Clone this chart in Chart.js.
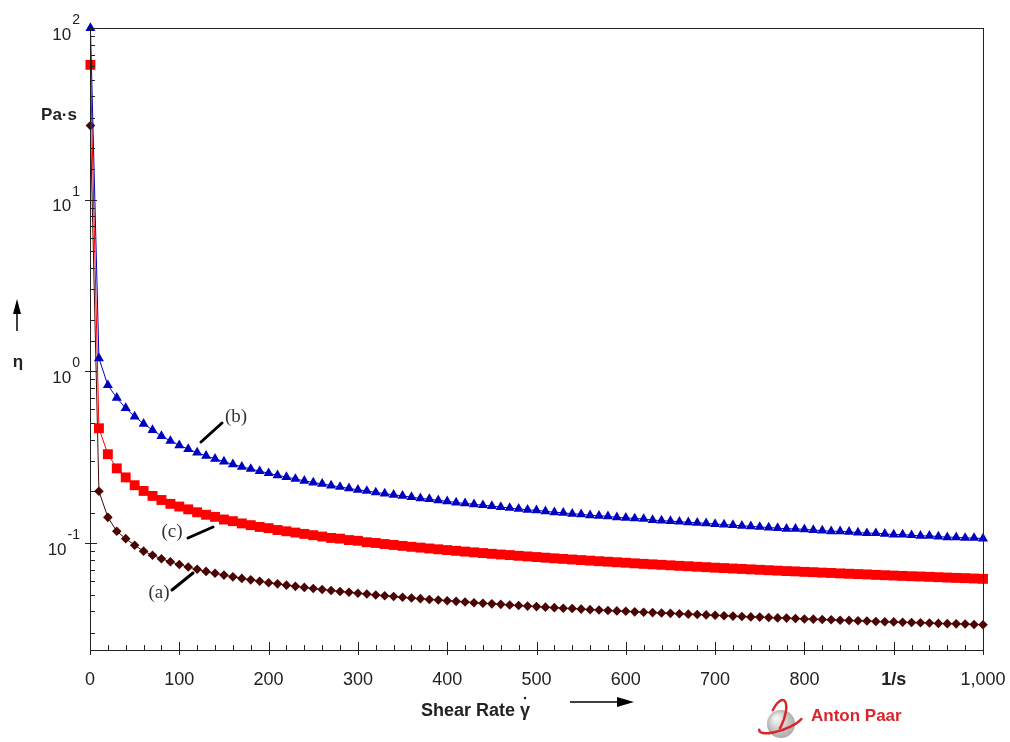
<!DOCTYPE html>
<html>
<head>
<meta charset="utf-8">
<script src="https://cdn.jsdelivr.net/npm/chart.js@4"></script>
<style>
  html, body { margin: 0; padding: 0; background: #fff; }
  #wrap { width: 1010px; height: 742px; }
</style>
</head>
<body>
<div id="wrap"><canvas id="viscosity" width="1010" height="742"></canvas></div>
<script>
// shear rate (1/s)
const shearRate = [0.5,
  10, 20, 30, 40, 50, 60, 70, 80, 90, 100,
  110, 120, 130, 140, 150, 160, 170, 180, 190, 200,
  210, 220, 230, 240, 250, 260, 270, 280, 290, 300,
  310, 320, 330, 340, 350, 360, 370, 380, 390, 400,
  410, 420, 430, 440, 450, 460, 470, 480, 490, 500,
  510, 520, 530, 540, 550, 560, 570, 580, 590, 600,
  610, 620, 630, 640, 650, 660, 670, 680, 690, 700,
  710, 720, 730, 740, 750, 760, 770, 780, 790, 800,
  810, 820, 830, 840, 850, 860, 870, 880, 890, 900,
  910, 920, 930, 940, 950, 960, 970, 980, 990, 1000];

// viscosity eta (Pa·s)
const etaB = [100,
  1.19, 0.83, 0.70, 0.61, 0.545, 0.495, 0.455, 0.42, 0.393, 0.371,
  0.352, 0.336, 0.322, 0.309, 0.298, 0.287, 0.278, 0.270, 0.262, 0.255,
  0.248, 0.242, 0.236, 0.230, 0.225, 0.221, 0.216, 0.212, 0.208, 0.204,
  0.201, 0.197, 0.194, 0.191, 0.188, 0.185, 0.182, 0.180, 0.177, 0.175,
  0.172, 0.170, 0.168, 0.166, 0.164, 0.162, 0.160, 0.158, 0.156, 0.155,
  0.153, 0.151, 0.150, 0.148, 0.147, 0.145, 0.144, 0.143, 0.141, 0.140,
  0.139, 0.138, 0.136, 0.135, 0.134, 0.133, 0.132, 0.131, 0.130, 0.129,
  0.128, 0.127, 0.126, 0.125, 0.124, 0.123, 0.122, 0.121, 0.121, 0.120,
  0.119, 0.118, 0.117, 0.117, 0.116, 0.115, 0.114, 0.114, 0.113, 0.112,
  0.112, 0.111, 0.110, 0.110, 0.109, 0.108, 0.108, 0.107, 0.107, 0.106];

const etaC = [61,
  0.466, 0.329, 0.272, 0.241, 0.217, 0.201, 0.188, 0.178, 0.169, 0.163,
  0.157, 0.151, 0.146, 0.142, 0.137, 0.134, 0.130, 0.127, 0.124, 0.122,
  0.119, 0.117, 0.115, 0.113, 0.111, 0.109, 0.107, 0.106, 0.104, 0.103,
  0.101, 0.100, 0.0986, 0.0974, 0.0962, 0.0950, 0.0940, 0.0929, 0.0919, 0.0909,
  0.0900, 0.0891, 0.0882, 0.0874, 0.0865, 0.0857, 0.0850, 0.0842, 0.0835, 0.0828,
  0.0821, 0.0814, 0.0808, 0.0801, 0.0795, 0.0789, 0.0783, 0.0778, 0.0772, 0.0767,
  0.0761, 0.0756, 0.0751, 0.0746, 0.0741, 0.0736, 0.0732, 0.0727, 0.0723, 0.0718,
  0.0714, 0.0710, 0.0706, 0.0702, 0.0698, 0.0694, 0.0690, 0.0686, 0.0683, 0.0679,
  0.0676, 0.0672, 0.0669, 0.0665, 0.0662, 0.0659, 0.0656, 0.0652, 0.0649, 0.0646,
  0.0643, 0.0640, 0.0638, 0.0635, 0.0632, 0.0629, 0.0626, 0.0624, 0.0621, 0.0618];

const etaA = [27,
  0.200, 0.141, 0.117, 0.106, 0.097, 0.0896, 0.0849, 0.0810, 0.0777, 0.0749,
  0.0724, 0.0703, 0.0683, 0.0666, 0.0650, 0.0635, 0.0622, 0.0610, 0.0598, 0.0587,
  0.0578, 0.0568, 0.0559, 0.0551, 0.0543, 0.0536, 0.0529, 0.0522, 0.0516, 0.0510,
  0.0504, 0.0498, 0.0493, 0.0488, 0.0483, 0.0478, 0.0474, 0.0469, 0.0465, 0.0461,
  0.0457, 0.0453, 0.0449, 0.0446, 0.0442, 0.0439, 0.0435, 0.0432, 0.0429, 0.0426,
  0.0423, 0.0420, 0.0417, 0.0415, 0.0412, 0.0409, 0.0407, 0.0404, 0.0402, 0.0400,
  0.0397, 0.0395, 0.0393, 0.0391, 0.0389, 0.0387, 0.0385, 0.0383, 0.0381, 0.0379,
  0.0377, 0.0375, 0.0373, 0.0371, 0.0370, 0.0368, 0.0366, 0.0365, 0.0363, 0.0361,
  0.0360, 0.0358, 0.0357, 0.0355, 0.0354, 0.0352, 0.0351, 0.0349, 0.0348, 0.0347,
  0.0345, 0.0344, 0.0343, 0.0342, 0.0340, 0.0339, 0.0338, 0.0337, 0.0335, 0.0334];

const decadeTicks = [2, 1, 0, -1];   // y labels 10^k
const curveLabels = ['(b)', '(c)', '(a)'];

const SANS = '"Liberation Sans", Arial, sans-serif';
const SERIF = '"Liberation Serif", "Times New Roman", serif';

function pts(ys) {
    return shearRate.map((x, i) => ({ x: x, y: ys[i] }));
}

const decor = {
    id: 'decor',
    afterDraw(chart) {
        const { ctx, chartArea: a, scales } = chart;
        const x = scales.x, y = scales.y;
        ctx.save();
        ctx.strokeStyle = '#222';
        ctx.lineWidth = 1;
        ctx.strokeRect(a.left + 0.5, a.top + 0.5, a.right - a.left, a.bottom - a.top);

        // x tick marks
        x.ticks.forEach(t => {
            const px = Math.round(x.getPixelForValue(t.value)) + 0.5;
            const major = t.value % 100 === 0;
            ctx.beginPath();
            ctx.moveTo(px, a.bottom + (major ? 5 : 0));
            ctx.lineTo(px, a.bottom - (major ? 8 : 5));
            ctx.stroke();
        });
        // y tick marks
        y.ticks.forEach(t => {
            const lg = Math.log10(t.value);
            if (t.value <= y.min || t.value >= y.max) return;
            const major = Math.abs(lg - Math.round(lg)) < 1e-6;
            const py = Math.round(y.getPixelForValue(t.value)) + 0.5;
            ctx.beginPath();
            ctx.moveTo(a.left - (major ? 5 : 0), py);
            ctx.lineTo(a.left + (major ? 7 : 5), py);
            ctx.stroke();
        });

        // y labels 10^k
        ctx.fillStyle = '#222';
        ctx.textBaseline = 'middle';
        ctx.textAlign = 'right';
        decadeTicks.forEach(k => {
            const py = y.getPixelForValue(Math.pow(10, k));
            const exp = k < 0 ? '-' + Math.abs(k) : String(k);
            ctx.font = '14px ' + SANS;
            const ew = ctx.measureText(exp).width;
            ctx.fillText(exp, 80, py - 8);
            ctx.font = '17px ' + SANS;
            ctx.fillText('10', 80 - ew - 1, py + 7);
        });

        // axis titles
        ctx.textAlign = 'left';
        ctx.font = 'bold 18px ' + SANS;
        const title = 'Shear Rate γ';
        ctx.fillText(title, 421, 711);
        const tw = ctx.measureText(title).width;
        ctx.beginPath();
        ctx.arc(421 + tw - 5, 698, 1.3, 0, Math.PI * 2);
        ctx.fill();
        // arrow right
        ctx.lineWidth = 1.5;
        ctx.strokeStyle = '#000';
        ctx.beginPath();
        ctx.moveTo(570, 702);
        ctx.lineTo(630, 702);
        ctx.stroke();
        ctx.fillStyle = '#000';
        ctx.beginPath();
        ctx.moveTo(617, 697);
        ctx.lineTo(634, 702);
        ctx.lineTo(617, 707);
        ctx.closePath();
        ctx.fill();

        ctx.fillStyle = '#222';
        ctx.textAlign = 'center';
        ctx.font = 'bold 17px ' + SANS;
        ctx.fillText('Pa·s', 59, 115);
        ctx.fillText('η', 18, 362);
        // arrow up
        ctx.beginPath();
        ctx.moveTo(17, 331);
        ctx.lineTo(17, 306);
        ctx.stroke();
        ctx.fillStyle = '#000';
        ctx.beginPath();
        ctx.moveTo(17, 299);
        ctx.lineTo(21, 314);
        ctx.lineTo(13, 314);
        ctx.closePath();
        ctx.fill();

        // curve labels with pointers
        const marks = [
            { pos: [236, 417], line: [201, 442, 222, 423] },
            { pos: [172, 532], line: [188, 538, 213, 527] },
            { pos: [159, 593], line: [172, 590, 193, 573] }
        ];
        ctx.font = '19px ' + SERIF;
        ctx.fillStyle = '#333';
        ctx.strokeStyle = '#000';
        ctx.lineWidth = 3;
        ctx.lineCap = 'round';
        marks.forEach((m, i) => {
            ctx.fillText(curveLabels[i], m.pos[0], m.pos[1]);
            ctx.beginPath();
            ctx.moveTo(m.line[0], m.line[1]);
            ctx.lineTo(m.line[2], m.line[3]);
            ctx.stroke();
        });

        // Anton Paar logo
        const g = ctx.createRadialGradient(776, 718, 2, 781, 724, 15);
        g.addColorStop(0, '#f2f2f2');
        g.addColorStop(1, '#a8a8a8');
        ctx.fillStyle = g;
        ctx.beginPath();
        ctx.arc(781, 724, 14, 0, Math.PI * 2);
        ctx.fill();
        ctx.strokeStyle = '#d8262a';
        ctx.lineWidth = 2.5;
        ctx.lineCap = 'round';
        ctx.beginPath();
        ctx.ellipse(781, 723, 23, 7, -0.35, Math.PI * 0.15, Math.PI * 1.05);
        ctx.stroke();
        ctx.beginPath();
        ctx.ellipse(777, 718, 7, 19, 0.35, Math.PI * 1.1, Math.PI * 2.15);
        ctx.stroke();
        ctx.fillStyle = '#d8262a';
        ctx.textAlign = 'left';
        ctx.font = 'bold 17px ' + SANS;
        ctx.fillText('Anton Paar', 811, 716);
        ctx.restore();
    }
};

new Chart(document.getElementById('viscosity'), {
    type: 'line',
    data: {
        datasets: [
            {
                label: '(b)',
                data: pts(etaB),
                borderColor: '#0000c0',
                backgroundColor: '#0000c0',
                borderWidth: 1,
                pointStyle: 'triangle',
                pointRadius: 5.8,
                pointBorderWidth: 0,
                clip: false,
            },
            {
                label: '(c)',
                data: pts(etaC),
                borderColor: '#ff0000',
                backgroundColor: '#ff0000',
                borderWidth: 1,
                pointStyle: 'rect',
                pointRadius: 7,
                pointBorderWidth: 0,
                clip: false,
            },
            {
                label: '(a)',
                data: pts(etaA),
                borderColor: '#4a0404',
                backgroundColor: '#4a0404',
                borderWidth: 1,
                pointStyle: 'rectRot',
                pointRadius: 4.8,
                pointBorderWidth: 0,
                clip: false,
            },
        ],
    },
    options: {
        responsive: false,
        animation: false,
        layout: { padding: { left: 0, top: 28, right: 27, bottom: 0 } },
        scales: {
            x: {
                type: 'linear',
                min: 0,
                max: 1000,
                grid: { display: false },
                border: { display: false },
                afterFit: s => { s.height = 92; s.paddingRight = 0; s.paddingLeft = 0; },
                ticks: {
                    stepSize: 20,
                    autoSkip: false,
                    maxRotation: 0,
                    padding: 11,
                    color: '#222',
                    font: ctx => ({
                        family: SANS,
                        size: 18,
                        weight: ctx.tick && ctx.tick.value === 900 ? 'bold' : 'normal',
                    }),
                    callback: v => {
                        if (v % 100 !== 0) return '';
                        if (v === 900) return '1/s';
                        if (v === 1000) return '1,000';
                        return String(v);
                    },
                },
            },
            y: {
                type: 'logarithmic',
                min: 0.0238,
                max: 100,
                grid: { display: false },
                border: { display: false },
                ticks: { display: false },
                afterFit: s => { s.width = 90; },
            },
        },
        plugins: {
            legend: { display: false },
            tooltip: { enabled: false },
        },
    },
    plugins: [decor],
});
</script>
</body>
</html>
